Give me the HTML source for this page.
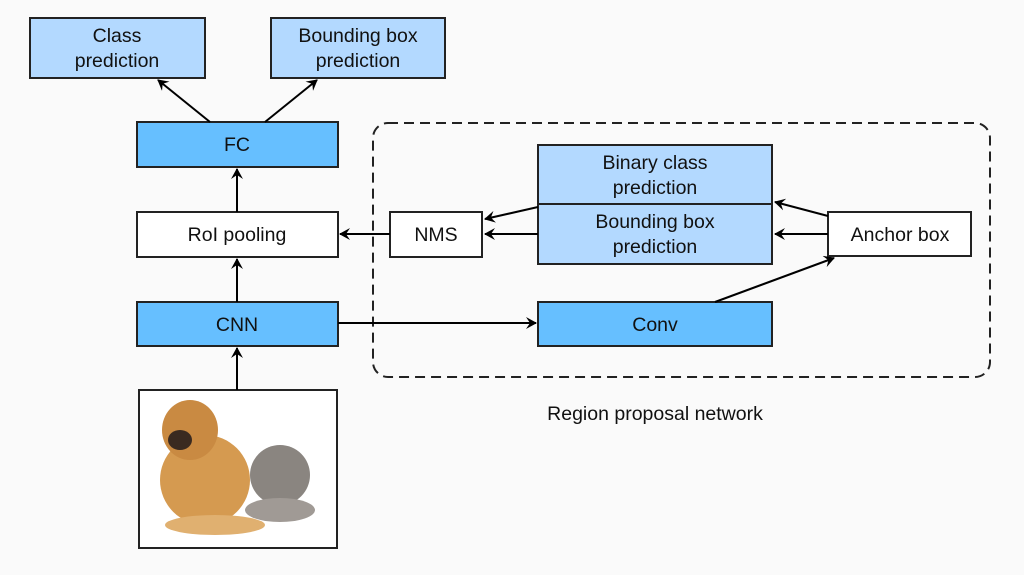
<!DOCTYPE html>
<html><head><style>
body{margin:0;background:#fafafa;}
svg text{font-family:"Liberation Sans",sans-serif;font-size:19.5px;fill:#111;text-anchor:middle;}
</style></head><body>
<svg width="1024" height="570" xmlns="http://www.w3.org/2000/svg">
<defs><marker id="a" markerWidth="12" markerHeight="12" refX="10" refY="6" orient="auto" markerUnits="userSpaceOnUse"><path d="M0,0 L11,6 L0,12 L4,6 Z" fill="#000"/></marker></defs>
<rect width="1024" height="570" fill="#fafafa"/>
<g stroke="#222" stroke-width="2">
<rect x="30" y="18" width="175" height="60" fill="#b3d9ff"/>
<rect x="271" y="18" width="174" height="60" fill="#b3d9ff"/>
<rect x="137" y="122" width="201" height="45" fill="#66bfff"/>
<rect x="137" y="212" width="201" height="45" fill="#fff"/>
<rect x="137" y="302" width="201" height="44" fill="#66bfff"/>
<rect x="390" y="212" width="92" height="45" fill="#fff"/>
<rect x="538" y="145" width="234" height="59" fill="#b3d9ff"/>
<rect x="538" y="204" width="234" height="60" fill="#b3d9ff"/>
<rect x="828" y="212" width="143" height="44" fill="#fff"/>
<rect x="538" y="302" width="234" height="44" fill="#66bfff"/>
<rect x="139" y="390" width="198" height="158" fill="#fff"/>
<rect x="373" y="123" width="617" height="254" rx="15" fill="none" stroke-dasharray="10,6"/>
</g>
<g stroke="#000" stroke-width="2" marker-end="url(#a)">
<line x1="210" y1="122" x2="158" y2="80"/>
<line x1="265" y1="122" x2="317" y2="80"/>
<line x1="237" y1="212" x2="237" y2="169"/>
<line x1="237" y1="302" x2="237" y2="259"/>
<line x1="237" y1="390" x2="237" y2="348"/>
<line x1="390" y1="234" x2="340" y2="234"/>
<line x1="538" y1="207" x2="485" y2="219"/>
<line x1="538" y1="234" x2="485" y2="234"/>
<line x1="828" y1="216" x2="775" y2="202"/>
<line x1="828" y1="234" x2="775" y2="234"/>
<line x1="715" y1="302" x2="834" y2="258"/>
<line x1="338" y1="323" x2="536" y2="323"/>
</g>
<g>
<ellipse cx="205" cy="480" rx="45" ry="45" fill="#d59a50"/>
<ellipse cx="190" cy="430" rx="28" ry="30" fill="#c98a42"/>
<ellipse cx="180" cy="440" rx="12" ry="10" fill="#3a2a20"/>
<ellipse cx="215" cy="525" rx="50" ry="10" fill="#e0b070"/>
<ellipse cx="280" cy="475" rx="30" ry="30" fill="#8a8580"/>
<ellipse cx="280" cy="510" rx="35" ry="12" fill="#a09a95"/>
</g>
<text x="117" y="42">Class</text><text x="117" y="67">prediction</text>
<text x="358" y="42">Bounding box</text><text x="358" y="67">prediction</text>
<text x="237" y="151">FC</text>
<text x="237" y="241">RoI pooling</text>
<text x="237" y="331">CNN</text>
<text x="436" y="241">NMS</text>
<text x="655" y="169">Binary class</text><text x="655" y="194">prediction</text>
<text x="655" y="228">Bounding box</text><text x="655" y="253">prediction</text>
<text x="900" y="241">Anchor box</text>
<text x="655" y="331">Conv</text>
<text x="655" y="420">Region proposal network</text>
</svg>
</body></html>
